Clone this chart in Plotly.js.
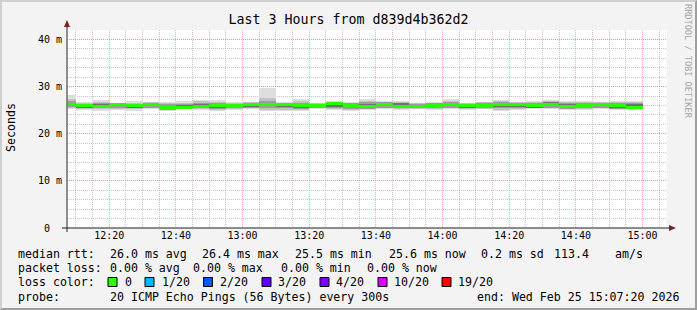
<!DOCTYPE html>
<html>
<head>
<meta charset="utf-8">
<script src="https://cdn.plot.ly/plotly-3.0.1.min.js"></script>
<style>
  html, body { margin: 0; padding: 0; background: #f3f3f3; }
  #wrap { position: relative; width: 697px; height: 310px; }
  #chart { width: 697px; height: 310px; }
  #frame { position: absolute; left: 0; top: 0; width: 697px; height: 310px; box-sizing: border-box;
           border-style: solid; border-width: 2px; border-color: #cfcfcf #9e9e9e #9e9e9e #cfcfcf; pointer-events: none; }
</style>
</head>
<body>
<div id="wrap"><div id="chart"></div><div id="frame"></div></div>
<script>
// ---- data (ms) ----
const day = '2026-02-25';
const times = ['12:05','12:10','12:15','12:20','12:25','12:30','12:35','12:40','12:45','12:50','12:55',
               '13:00','13:05','13:10','13:15','13:20','13:25','13:30','13:35','13:40','13:45','13:50','13:55',
               '14:00','14:05','14:10','14:15','14:20','14:25','14:30','14:35','14:40','14:45','14:50','14:55'];
const median = [26.25,25.9,25.85,26.15,25.95,26.3,25.5,25.55,25.85,25.9,26.0,
                26.1,26.2,26.1,25.95,26.05,26.4,26.0,25.85,26.15,25.8,25.8,26.05,
                26.25,26.05,26.05,26.15,26.1,26.05,26.25,25.8,25.95,26.15,26.05,25.6];
const smokeMin = [25.2,25.05,24.9,25.05,24.9,25.2,24.9,25.2,25.05,24.9,25.05,
                  25.2,24.85,24.9,24.9,25.2,25.05,24.9,25.05,25.2,25.05,25.2,25.05,
                  25.2,25.05,25.2,24.9,25.05,25.2,25.2,25.05,25.05,25.2,25.05,25.05];
const smokeMax = [28.2,26.8,27.15,26.6,26.95,26.8,26.8,27.0,27.15,27.15,26.65,
                  26.8,29.8,26.8,27.35,26.6,26.95,26.8,27.35,26.95,26.95,26.6,26.65,
                  27.35,26.6,26.8,27.15,26.8,26.95,27.15,26.95,26.95,26.8,26.95,26.95];
const smokeLo2 = [25.4,25.2,25.2,25.3,25.15,25.35,25.0,25.25,25.2,25.1,25.25,
                  25.35,25.1,25.1,25.1,25.35,25.2,25.1,25.2,25.35,25.2,25.3,25.25,
                  25.35,25.25,25.3,25.1,25.2,25.35,25.35,25.2,25.2,25.35,25.2,25.2];
const smokeHi2 = [27.3,26.5,26.7,26.5,26.6,26.7,26.5,26.6,26.85,26.8,26.5,
                  26.65,27.6,26.6,26.95,26.5,26.8,26.6,27.0,26.8,26.8,26.45,26.55,
                  27.0,26.5,26.65,26.9,26.65,26.7,26.95,26.7,26.75,26.65,26.7,26.7];
const smokeLo3 = [25.6,25.35,25.4,25.5,25.35,25.55,25.1,25.25,25.35,25.3,25.45,
                  25.5,25.4,25.4,25.3,25.45,25.45,25.3,25.3,25.55,25.35,25.4,25.4,
                  25.5,25.35,25.45,25.45,25.4,25.4,25.55,25.3,25.35,25.5,25.3,25.3];
const smokeHi3 = [26.9,26.3,26.45,26.45,26.4,26.6,26.2,26.3,26.6,26.5,26.35,
                  26.5,26.9,26.45,26.6,26.4,26.7,26.45,26.7,26.7,26.6,26.3,26.45,
                  26.75,26.4,26.5,26.7,26.5,26.5,26.8,26.55,26.55,26.55,26.5,26.5];
const smokeLo4 = [25.9,25.5,25.6,25.8,25.55,25.85,25.3,25.35,25.6,25.55,25.7,
                  25.75,25.8,25.7,25.5,25.7,25.75,25.6,25.5,25.8,25.55,25.6,25.7,
                  25.8,25.55,25.7,25.75,25.7,25.5,25.85,25.5,25.6,25.8,25.45,25.4];
const smokeHi4 = [26.6,26.1,26.2,26.4,26.2,26.55,25.9,26.0,26.3,26.2,26.2,
                  26.35,26.5,26.3,26.25,26.25,26.6,26.2,26.35,26.55,26.45,26.1,26.3,
                  26.5,26.25,26.3,26.4,26.35,26.3,26.65,26.4,26.35,26.4,26.25,26.2];

const yTickVals = [0, 10, 20, 30, 40];
const yTickText = ['0\u00a0\u00a0', '10 m', '20 m', '30 m', '40 m'];

const lossLabels = ['0', '1/20', '2/20', '3/20', '4/20', '10/20', '19/20'];
const lossColors = ['#26ff00', '#00b8ff', '#0059ff', '#5e00ff', '#7e00ff', '#dd00ff', '#ff0000'];

const rttLegend = ['26.0 ms avg', '26.4 ms max', '25.5 ms min', '25.6 ms now', '0.2 ms sd', '113.4', 'am/s'];
const lossLegend = ['0.00 % avg', '0.00 % max', '0.00 % min', '0.00 % now'];
const probeText = '20 ICMP Echo Pings (56 Bytes) every 300s';
const endText = 'end: Wed Feb 25 15:07:20 2026';
const titleText = 'Last 3 Hours from d839d4b362d2';

// ---- layout helpers ----
const L = 67, T = 30, W = 600, H = 198;
const px = v => (v - L) / W;
const py = v => (T + H - v) / H;
const MONO = 'DejaVu Sans Mono';

const xs = times.map(t => day + ' ' + t + ':00');
function band(lo, hi, color) {
  return { type: 'bar', x: xs, base: lo, y: hi.map((h, i) => h - lo[i]), width: 300000, offset: 0,
           marker: { color: color, line: { width: 0 } }, hoverinfo: 'skip', showlegend: false };
}
const medHalf = 0.32;
const traces = [
  band(smokeMin, smokeMax, '#dedede'),
  band(smokeLo2, smokeHi2, '#c2c2c2'),
  band(smokeLo3, smokeHi3, '#9c9c9c'),
  band(smokeLo4, smokeHi4, '#707070'),
  band(median.map(m => m - medHalf), median.map(m => m + medHalf), lossColors[0])
];

const ann = [];
function txt(x, y, text, o) {
  ann.push(Object.assign({ xref: 'paper', yref: 'paper', x: px(x), y: py(y), text: text, showarrow: false,
    xanchor: 'left', yanchor: 'middle', font: { family: MONO, size: 11.6, color: '#000' } }, o || {}));
}
// y axis title & watermark
txt(11, 128, 'Seconds', { xanchor: 'center', textangle: -90 });
txt(688, 61, 'RRDTOOL / TOBI OETIKER', { xanchor: 'center', textangle: 90, font: { family: MONO, size: 8.6, color: '#a8a8a8' } });
// legend rows
const rttX = [107.6, 200, 293, 387, 479, 552, 613];
txt(16, 254, 'median rtt:');
rttLegend.forEach((t, i) => txt(rttX[i], 254, t));
const lossX = [107.6, 191, 279, 365];
txt(16, 268, 'packet loss:');
lossLegend.forEach((t, i) => txt(lossX[i], 268, t));
txt(16, 282, 'loss color:');
const boxX = [108, 145, 203.5, 262, 320, 378, 442];
const labX = [123, 160, 218, 276.4, 334, 392, 456];
const shapes = [];
lossLabels.forEach((t, i) => {
  txt(labX[i], 282, t);
  shapes.push({ type: 'rect', xref: 'paper', yref: 'paper', x0: px(boxX[i]), x1: px(boxX[i] + 9),
    y0: py(286.5), y1: py(277.5), fillcolor: lossColors[i], line: { color: '#000', width: 1 } });
});
txt(16, 297, 'probe:');
txt(107.6, 297, probeText);
txt(681, 297, endText, { xanchor: 'right' });

// axes lines and arrows
shapes.push({ type: 'line', xref: 'paper', yref: 'paper', x0: px(67), x1: px(67), y0: py(232), y1: py(25), line: { color: '#6a6a6a', width: 1.5 } });
shapes.push({ type: 'line', xref: 'paper', yref: 'paper', x0: px(62), x1: px(671), y0: py(228), y1: py(228), line: { color: '#1f1f1f', width: 1 } });
shapes.push({ type: 'path', xref: 'paper', yref: 'paper',
  path: `M ${px(64)} ${py(27)} L ${px(70)} ${py(27)} L ${px(67)} ${py(20)} Z`, fillcolor: '#7f1f1f', line: { width: 0 } });
shapes.push({ type: 'path', xref: 'paper', yref: 'paper',
  path: `M ${px(669)} ${py(225)} L ${px(669)} ${py(231)} L ${px(676)} ${py(228)} Z`, fillcolor: '#7f1f1f', line: { width: 0 } });

const majorGrid = 'rgba(235,120,120,0.6)';
const minorGrid = 'rgba(150,150,150,0.55)';
const layout = {
  width: 697, height: 310,
  margin: { l: L, r: 697 - L - W, t: T, b: 310 - T - H, pad: 0 },
  paper_bgcolor: '#f3f3f3', plot_bgcolor: '#ffffff',
  barmode: 'overlay', bargap: 0, showlegend: false,
  title: { text: titleText, font: { family: MONO, size: 13.3, color: '#000' }, x: 0.5, xanchor: 'center',
           yref: 'container', y: 1 - 19 / 310, yanchor: 'middle' },
  xaxis: {
    type: 'date', range: [day + ' 12:07:20', day + ' 15:07:20'],
    tick0: day + ' 12:20:00', dtick: 1200000, tickformat: '%H:%M',
    showgrid: true, gridcolor: majorGrid, griddash: '1px,1px', gridwidth: 1,
    minor: { tick0: day + ' 12:00:00', dtick: 300000, showgrid: true, gridcolor: minorGrid, griddash: '1px,1px', gridwidth: 1 },
    zeroline: false, showline: false, ticks: '', fixedrange: true,
    tickfont: { family: MONO, size: 10, color: '#000' }
  },
  yaxis: {
    range: [0, 42], tickvals: yTickVals, ticktext: yTickText,
    showgrid: true, gridcolor: majorGrid, griddash: '1px,1px', gridwidth: 1,
    minor: { tick0: 0, dtick: 2, showgrid: true, gridcolor: minorGrid, griddash: '1px,1px', gridwidth: 1 },
    zeroline: false, showline: false, ticks: '', fixedrange: true, ticklabelstandoff: 4,
    tickfont: { family: MONO, size: 10, color: '#000' }
  },
  annotations: ann, shapes: shapes
};
Plotly.newPlot('chart', traces, layout, { displayModeBar: false, staticPlot: true });
</script>
</body>
</html>
